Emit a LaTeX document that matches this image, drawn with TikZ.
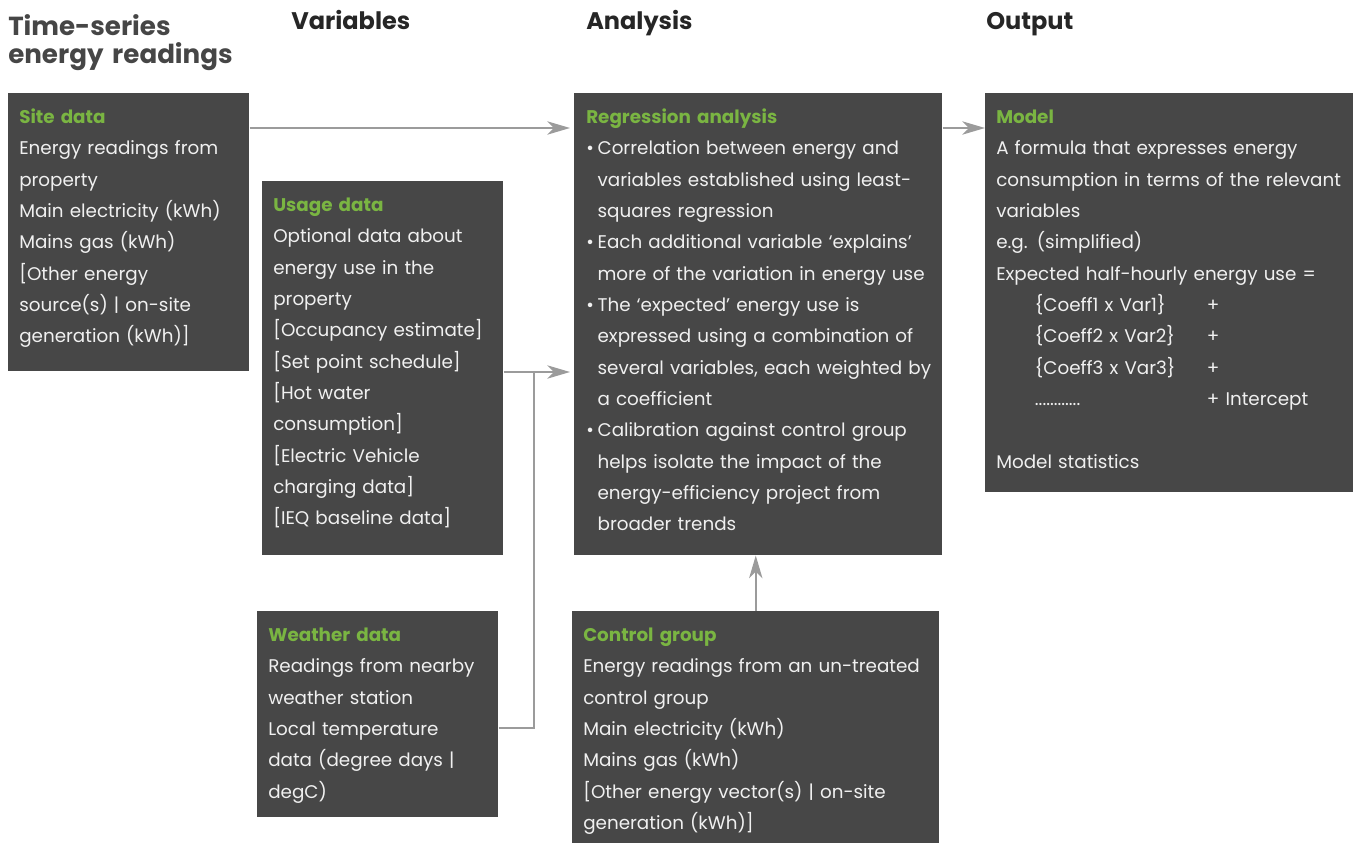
\documentclass[tikz,border=0pt]{standalone}
\usepackage{fontspec}
\setmainfont{Poppins}
\usetikzlibrary{arrows.meta,calc,positioning}
\definecolor{panelgrey}{RGB}{71,71,71}
\definecolor{headgreen}{RGB}{122,181,66}
\definecolor{linkgrey}{RGB}{155,155,155}
\definecolor{titlegrey}{RGB}{70,70,70}
\newcommand{\paneltitle}[1]{{\bfseries\color{headgreen}#1}}
\newcommand{\bul}{\makebox[8.5pt][l]{\textbullet}}
\newcommand{\hang}{\hspace*{8.5pt}}

\begin{document}
\begin{tikzpicture}[x=.75pt,y=-.75pt,
 panel/.style={fill=panelgrey,anchor=north west,inner sep=0pt},
 paneltext/.style={anchor=base west,inner sep=0pt,align=left,text width=#1,text=white!94!black,font=\fontsize{13.75pt}{23.5pt}\selectfont},
 colhead/.style={anchor=base west,inner sep=0pt,font=\fontsize{18pt}{20pt}\selectfont\bfseries,text=black!85},
 link/.style={draw=linkgrey,line width=1.3pt,-{Stealth[length=17pt,width=10pt,inset=5pt]}},
 plain/.style={draw=linkgrey,line width=1.3pt}]
\useasboundingbox (0,0) rectangle (1356,843);

\node[anchor=base west,inner sep=0pt,align=left,text width=8cm,text=titlegrey,font=\fontsize{19.6pt}{21pt}\selectfont\bfseries] (maintitle) at (8,35) {Time-series\\energy readings};
\node[colhead] (varhead) at (291,29) {Variables};
\node[colhead] (anahead) at (586,29) {Analysis};
\node[colhead] (outhead) at (986,29) {Output};

\node[panel,minimum width=180.75pt,minimum height=208.5pt] (site) at (8,93) {};
\node[panel,minimum width=180.75pt,minimum height=280.5pt] (usage) at (262,181) {};
\node[panel,minimum width=180.75pt,minimum height=154.5pt] (weather) at (257,611) {};
\node[panel,minimum width=276pt,minimum height=346.5pt] (analysis) at (574,93) {};
\node[panel,minimum width=275.25pt,minimum height=174pt] (control) at (572,611) {};
\node[panel,minimum width=276pt,minimum height=299.25pt] (model) at (985,93) {};

\node[paneltext=172pt] (sitetext) at ($(site.north west)+(11,30.5)$) {\paneltitle{Site data}\\
Energy readings from\\ property\\ Main electricity (kWh)\\ Mains gas (kWh)\\
{[}Other energy\\ source(s) | on-site\\ generation (kWh)]};

\node[paneltext=172pt] (usagetext) at ($(usage.north west)+(11,30.5)$) {\paneltitle{Usage data}\\
Optional data about\\ energy use in the\\ property\\ {[}Occupancy estimate]\\
{[}Set point schedule]\\ {[}Hot water\\ consumption]\\ {[}Electric Vehicle\\
charging data]\\ {[}IEQ baseline data]};

\node[paneltext=172pt] (weathertext) at ($(weather.north west)+(11,30.5)$) {\paneltitle{Weather data}\\
Readings from nearby\\ weather station\\ Local temperature\\ data (degree days |\\ degC)};

\node[paneltext=267pt] (analysistext) at ($(analysis.north west)+(12,30.5)$) {\paneltitle{Regression analysis}\\
\bul Correlation between energy and\\ \hang variables established using least-\\ \hang squares regression\\
\bul Each additional variable ‘explains’\\ \hang more of the variation in energy use\\
\bul The ‘expected’ energy use is\\ \hang expressed using a combination of\\ \hang several variables, each weighted by\\ \hang a coefficient\\
\bul Calibration against control group\\ \hang helps isolate the impact of the\\ \hang energy-efficiency project from\\ \hang broader trends};

\node[paneltext=266pt] (controltext) at ($(control.north west)+(11,30.5)$) {\paneltitle{Control group}\\
Energy readings from an un-treated\\ control group\\ Main electricity (kWh)\\ Mains gas (kWh)\\
{[}Other energy vector(s) | on-site\\ generation (kWh)]};

\node[paneltext=267pt] (modeltext) at ($(model.north west)+(11,30.5)$) {\paneltitle{Model}\\
A formula that expresses energy\\ consumption in terms of the relevant\\ variables\\ e.g. (simplified)\\
Expected half-hourly energy use =\\
\hspace*{29pt}\makebox[129pt][l]{\{Coeff1 x Var1\}}+\\
\hspace*{29pt}\makebox[129pt][l]{\{Coeff2 x Var2\}}+\\
\hspace*{29pt}\makebox[129pt][l]{\{Coeff3 x Var3\}}+\\
\hspace*{29pt}\makebox[129pt][l]{{\fontsize{13.5pt}{9pt}\selectfont ............}}+ Intercept\\[23.5pt]
Model statistics};

\coordinate (toprow) at (0,128);
\coordinate (vjoin) at (534,372);
\draw[link,shorten >=3pt] (site.east |- toprow) -- (analysis.west |- toprow);
\draw[link] (analysis.east |- toprow) -- (model.west |- toprow);
\draw[link,shorten >=3pt] (usage.east |- vjoin) -- (analysis.west |- vjoin);
\draw[plain] ([yshift=-10.5pt]weather.east) -| (vjoin);
\draw[link] (control.north) -- (control.north |- analysis.south);
\end{tikzpicture}
\end{document}
